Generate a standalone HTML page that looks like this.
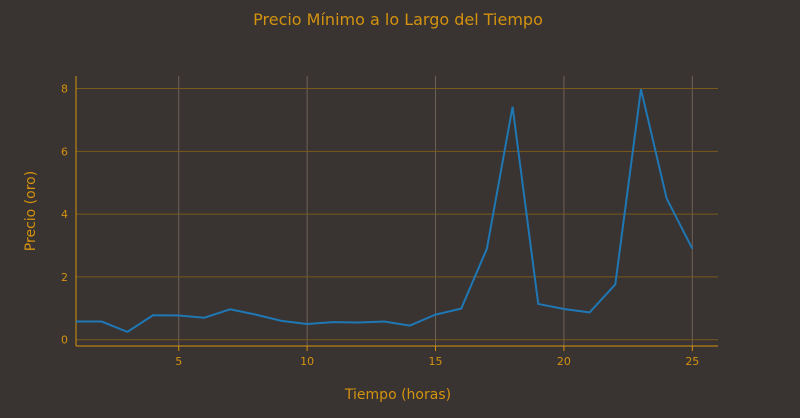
<!DOCTYPE html>
<html><head><meta charset="utf-8"><style>
body{margin:0;background:#393331;}
svg{display:block;font-family:"DejaVu Sans","Liberation Sans",sans-serif;}
</style></head><body>
<svg id="chart" width="800" height="418">
<rect width="800" height="418" fill="#393331"/>
<text x="398" y="25" text-anchor="middle" font-size="16" fill="#d4930f">Precio Mínimo a lo Largo del Tiempo</text>
<text x="398" y="399" text-anchor="middle" font-size="14" fill="#d4930f">Tiempo (horas)</text>
<text transform="translate(35,211) rotate(-90)" text-anchor="middle" font-size="14" fill="#d4930f">Precio (oro)</text>
<g id="grid"></g><g id="axes"></g><g id="series"></g>
</svg>
<script>
const hours=[1,2,3,4,5,6,7,8,9,10,11,12,13,14,15,16,17,18,19,20,21,22,23,24,25];
const prices=[0.58,0.58,0.25,0.78,0.77,0.70,0.97,0.80,0.60,0.50,0.56,0.55,0.58,0.45,0.80,0.99,2.9,7.42,1.14,0.98,0.87,1.76,7.98,4.5,2.9];
const xTicks=[5,10,15,20,25];
const yTicks=[0,2,4,6,8];
const L=76,R=718,T=76,B=346;
const xMin=1,xMax=26,yMin=-0.2,yMax=8.4;
const ns="http://www.w3.org/2000/svg";
function X(v){return L+(v-xMin)/(xMax-xMin)*(R-L);}
function Y(v){return B-(v-yMin)/(yMax-yMin)*(B-T);}
function mk(t,a,p){const e=document.createElementNS(ns,t);for(const k in a)e.setAttribute(k,a[k]);p.appendChild(e);return e;}
const g=document.getElementById('grid'),ax=document.getElementById('axes'),s=document.getElementById('series');
xTicks.forEach(v=>{
 const l=mk('line',{x1:X(v),x2:X(v),y1:T,y2:B,stroke:'#6e6256','stroke-width':1},g);
 
 
 const tk=mk('line',{x1:X(v),x2:X(v),y1:B,y2:B+5,stroke:'#d4930f'},ax);
 
 
 const t=mk('text',{x:X(v),y:B+19,'text-anchor':'middle','font-size':11,fill:'#d4930f'},ax);
 t.textContent=v;
 
 
});
yTicks.forEach(v=>{
 const l=mk('line',{x1:L,x2:R,y1:Y(v),y2:Y(v),stroke:'#7a5a1a','stroke-width':1},g);
 
 
 const t=mk('text',{x:L-8,y:Y(v)+4,'text-anchor':'end','font-size':11,fill:'#d4930f'},ax);
 t.textContent=v;
 
 
});
const xa=mk('line',{x1:L,x2:R,y1:B,y2:B,stroke:'#d4930f'},ax);


const ya=mk('line',{x1:L,x2:L,y1:T,y2:B,stroke:'#d4930f'},ax);


const p=mk('polyline',{points:hours.map((h,i)=>X(h)+','+Y(prices[i])).join(' '),fill:'none',stroke:'#1f77b4','stroke-width':2},s);


</script>
</body></html>
